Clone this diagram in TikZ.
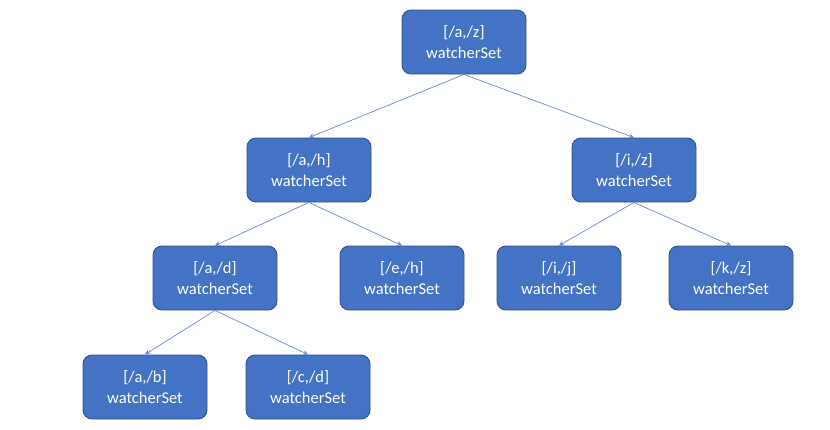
\documentclass[tikz,border=0pt]{standalone}
\usepackage{fontspec}
\setmainfont{Carlito}
\usetikzlibrary{arrows.meta}
\definecolor{boxfill}{RGB}{68,114,196}
\definecolor{boxline}{RGB}{47,82,143}
\definecolor{edgecol}{RGB}{100,140,210}
\begin{document}
\begin{tikzpicture}[x=1pt,y=-1pt,
  tnode/.style={draw=boxline,line width=0.9pt,fill=boxfill,rounded corners=9pt,
    minimum width=124pt,minimum height=64pt,inner sep=0pt,text=white,align=center,
    font=\fontsize{16.5}{20.5}\selectfont},
  edge/.style={draw=edgecol,line width=0.7pt,-{Stealth[length=5pt,width=5pt]}}]
\useasboundingbox (0,0) rectangle (830,429);
\node[tnode] (az) at (464,42) {[/a,/z]\\watcherSet};
\node[tnode] (ah) at (309,170) {[/a,/h]\\watcherSet};
\node[tnode] (iz) at (634,170) {[/i,/z]\\watcherSet};
\node[tnode] (ad) at (215,278) {[/a,/d]\\watcherSet};
\node[tnode] (eh) at (402,278) {[/e,/h]\\watcherSet};
\node[tnode] (ij) at (559,278) {[/i,/j]\\watcherSet};
\node[tnode] (kz) at (731,278) {[/k,/z]\\watcherSet};
\node[tnode] (ab) at (145,387) {[/a,/b]\\watcherSet};
\node[tnode] (cd) at (308,387) {[/c,/d]\\watcherSet};
\draw[edge] (az.south) -- (ah.north);
\draw[edge] (az.south) -- (iz.north);
\draw[edge] (ah.south) -- (ad.north);
\draw[edge] (ah.south) -- (eh.north);
\draw[edge] (iz.south) -- (ij.north);
\draw[edge] (iz.south) -- (kz.north);
\draw[edge] (ad.south) -- (ab.north);
\draw[edge] (ad.south) -- (cd.north);
\end{tikzpicture}
\end{document}
